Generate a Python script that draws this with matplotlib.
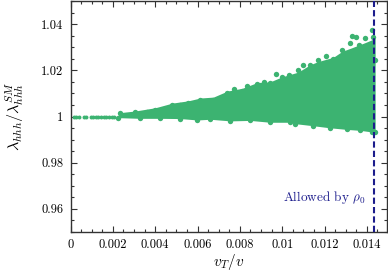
import matplotlib
matplotlib.use('Agg')
import matplotlib.pyplot as plt
from matplotlib.ticker import MultipleLocator
import numpy as np

plt.rcParams['font.family'] = ['cmr10', 'DejaVu Sans']
plt.rcParams['mathtext.fontset'] = 'cm'
plt.rcParams['axes.formatter.use_mathtext'] = True

# thin start of the band, right on 1
start_x = [0.00015, 0.00028, 0.00042, 0.00062, 0.00075, 0.00095, 0.00108, 0.00120, 0.00132, 0.00145,
           0.00158, 0.00170, 0.00182, 0.00195, 0.00205]
start_y = [1, 1, 1, 1, 1, 1, 1, 1, 1, 1, 1, 1, 1, 1, 1]

# solid body of the cloud, top side
body_x = [0.00226, 0.00307, 0.00401, 0.00481, 0.00557, 0.00613, 0.00675, 0.00741, 0.00811, 0.00882,
          0.00943, 0.01000, 0.01075, 0.01132, 0.01170, 0.01241, 0.01283, 0.01330, 0.01392, 0.01439]
body_y = [1.0016, 1.0024, 1.0038, 1.0058, 1.0068, 1.0080, 1.0084, 1.0110, 1.0122, 1.0147,
          1.0150, 1.0172, 1.0192, 1.0224, 1.0238, 1.0256, 1.0282, 1.0298, 1.0320, 1.0338]

# points sticking out along the top
upper_x = [0.00236, 0.00307, 0.00363, 0.00401, 0.00439, 0.00481, 0.00519, 0.00557, 0.00613, 0.00651,
           0.00675, 0.00708, 0.00741, 0.00774, 0.00811, 0.00835, 0.00882, 0.00915, 0.00943, 0.00972,
           0.01000, 0.01033, 0.01075, 0.01099, 0.01132, 0.01170, 0.01208, 0.01241, 0.01283, 0.01321,
           0.01330, 0.01349, 0.01363, 0.01392, 0.01425, 0.01429, 0.01439]
upper_y = [1.0013, 1.0020, 1.0020, 1.0030, 1.0030, 1.0049, 1.0049, 1.0059, 1.0071, 1.0063,
           1.0071, 1.0078, 1.0100, 1.0118, 1.0111, 1.0131, 1.0140, 1.0150, 1.0144, 1.0183,
           1.0171, 1.0180, 1.0200, 1.0222, 1.0222, 1.0243, 1.0264, 1.0251, 1.0287, 1.0317,
           1.0349, 1.0346, 1.0309, 1.0338, 1.0374, 1.0345, 1.0244]

# lower side of the cloud
lower_x = [0.00226, 0.00330, 0.00425, 0.00519, 0.00599, 0.00660, 0.00755, 0.00849, 0.00943, 0.01038,
           0.01061, 0.01146, 0.01226, 0.01307, 0.01368, 0.01425, 0.01439]
lower_y = [0.9995, 0.9992, 0.9992, 0.9991, 0.9985, 0.9988, 0.9981, 0.9983, 0.9975, 0.9975,
           0.9969, 0.9960, 0.9951, 0.9944, 0.9940, 0.9933, 0.9933]

allowed_limit = 0.01435
x_ticks = [0, 0.002, 0.004, 0.006, 0.008, 0.01, 0.012, 0.014]
x_labels = ['0', '0.002', '0.004', '0.006', '0.008', '0.01', '0.012', '0.014']
y_ticks = [0.96, 0.98, 1, 1.02, 1.04]
y_labels = ['0.96', '0.98', '1', '1.02', '1.04']

green = '#3cb371'
navy = '#1c1c8c'

fig = plt.figure(figsize=(3.88, 2.72), dpi=100)
ax = fig.add_axes([70.5/388, 1-232/272, 316.5/388, 231/272])

grid_x = sorted(set(body_x + lower_x))
ax.fill_between(grid_x, np.interp(grid_x, lower_x, lower_y), np.interp(grid_x, body_x, body_y),
                color=green, lw=0, zorder=2)
ax.scatter(upper_x, upper_y, s=15, color=green, lw=0, zorder=2)
ax.scatter(lower_x, lower_y, s=15, color=green, lw=0, zorder=2)
ax.scatter(start_x, start_y, s=8, color=green, lw=0, zorder=2)

ax.axvline(allowed_limit, color=navy, lw=1.5, ls=(0, (3, 1.5)), zorder=3)
ax.text(0.01396, 0.965, r'Allowed by $\rho_0$', color=navy, fontsize=9.5, ha='right', va='center')

ax.set_xlim(0, 0.01495)
ax.set_ylim(0.95, 1.05)
ax.set_xticks(x_ticks, x_labels)
ax.set_yticks(y_ticks, y_labels)
ax.xaxis.set_minor_locator(MultipleLocator(0.0005))
ax.yaxis.set_minor_locator(MultipleLocator(0.005))
ax.tick_params(which='major', direction='in', length=4, width=0.8, top=True, right=True,
               labelsize=9, color='#333333', pad=5)
ax.tick_params(which='minor', direction='in', length=2, width=0.8, top=True, right=True, color='#333333')
for s in ax.spines.values():
    s.set_linewidth(1.0)
    s.set_color('#333333')

fig.text(229/388, 1-262/272, r'$v_T/v$', fontsize=11, ha='center', va='center')
fig.text(15/388, 1-116/272, r'$\lambda_{hhh}/\lambda_{hhh}^{SM}$', fontsize=11.5, rotation=90, ha='center', va='center')

fig.savefig('out.png', dpi=100)
